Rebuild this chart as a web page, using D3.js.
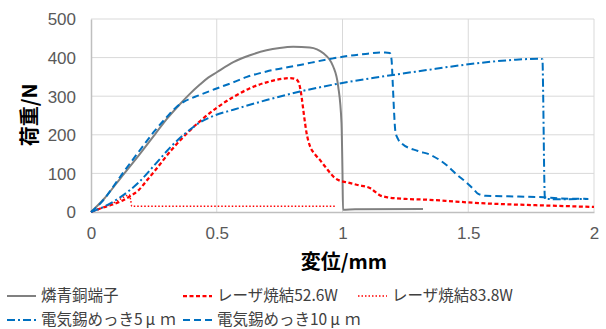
<!DOCTYPE html>
<html>
<head>
<meta charset="utf-8">
<script src="https://cdn.jsdelivr.net/npm/d3@7"></script>
<style>
  body { margin: 0; background: #fff; }
  svg { display: block; }
</style>
</head>
<body>
<script>
// values: [displacement mm, load N]
var xTicks = [0, 0.5, 1, 1.5, 2];
var yTicks = [0, 100, 200, 300, 400, 500];

var seriesNames = ["燐青銅端子", "レーザ焼結52.6W", "レーザ焼結83.8W", "電気錫めっき5μｍ", "電気錫めっき10μｍ"];

var phosphorBronze = [[0,0],[0.053,35],[0.12,90],[0.19,147],[0.253,200],[0.3,240],[0.346,274],[0.39,304],[0.433,330],[0.466,348],[0.5,362],[0.566,388],[0.632,406],[0.698,419],[0.75,425],[0.804,428],[0.87,426],[0.924,411],[0.963,377],[0.983,325],[0.996,231],[1.0,100],[1.002,6],[1.05,7],[1.32,8]];
var laser526 = [[0,0],[0.041,10],[0.08,18],[0.12,28],[0.16,43],[0.187,55],[0.22,80],[0.253,106],[0.319,160],[0.385,206],[0.433,235],[0.5,270],[0.566,298],[0.63,320],[0.698,336],[0.75,344],[0.791,347],[0.812,345],[0.824,338],[0.832,320],[0.837,300],[0.847,250],[0.857,205],[0.87,172],[0.89,150],[0.91,135],[0.94,110],[0.97,88],[0.99,81],[1.017,77],[1.06,70],[1.109,62],[1.13,52],[1.15,43],[1.18,38],[1.25,34],[1.334,32],[1.45,27],[1.547,23],[1.7,19],[1.85,16],[2.0,13]];
var laser838 = [[0,0],[0.05,12],[0.1,27],[0.14,42],[0.152,45],[0.158,30],[0.162,15],[0.977,15]];
var tin5 = [[0,0],[0.068,19],[0.12,40],[0.187,75],[0.253,122],[0.319,170],[0.385,209],[0.433,232],[0.491,250],[0.566,265],[0.698,290],[0.831,312],[0.963,330],[1.149,350],[1.328,367],[1.48,381],[1.679,394],[1.78,397],[1.795,396],[1.798,300],[1.8,200],[1.802,100],[1.805,34],[1.86,33],[1.977,34]];
var tin10 = [[0,0],[0.041,25],[0.12,95],[0.2,165],[0.253,210],[0.3,245],[0.34,272],[0.37,286],[0.42,300],[0.491,318],[0.566,336],[0.62,350],[0.698,364],[0.831,381],[0.963,398],[1.03,405],[1.1,410],[1.149,413],[1.17,413],[1.188,412],[1.195,395],[1.2,330],[1.205,260],[1.21,210],[1.22,190],[1.235,178],[1.3,158],[1.35,148],[1.39,133],[1.42,118],[1.454,97],[1.49,78],[1.52,60],[1.54,47],[1.57,42],[1.7,40],[1.8,38],[1.865,35],[1.977,34]];

var styles = [
  {color: "#808080", width: 2, dash: null},
  {color: "#ff0000", width: 2.25, dash: "4,2.5"},
  {color: "#ff0000", width: 1.5, dash: "1.5,2"},
  {color: "#0070c0", width: 2, dash: "8,3,2,3"},
  {color: "#0070c0", width: 2, dash: "7,4"}
];
var allSeries = [phosphorBronze, laser526, laser838, tin5, tin10];

var W = 606, H = 329;
var margin = {top: 19, right: 12, bottom: 117, left: 91};
var w = 594 - 91, h = 212 - 19;

var svg = d3.select("body").append("svg")
  .attr("width", W)
  .attr("height", H);

var g = svg.append("g")
  .attr("transform", "translate(" + margin.left + "," + margin.top + ")");

var x = d3.scaleLinear().domain([0, 2]).range([0, w]);
var y = d3.scaleLinear().domain([0, 500]).range([h, 0]);

// gridlines
g.selectAll(".hgrid").data(yTicks.slice(1)).enter().append("line")
  .attr("x1", 0).attr("x2", w)
  .attr("y1", d => y(d)).attr("y2", d => y(d))
  .style("stroke", "#d9d9d9").style("stroke-width", 1);
g.selectAll(".vgrid").data(xTicks.slice(1)).enter().append("line")
  .attr("y1", 0).attr("y2", h)
  .attr("x1", d => x(d)).attr("x2", d => x(d))
  .style("stroke", "#d9d9d9").style("stroke-width", 1);

// axes
var xAxis = d3.axisBottom(x).tickValues(xTicks).tickSize(0).tickPadding(15)
  .tickFormat(d3.format("~g"));
var yAxis = d3.axisLeft(y).tickValues(yTicks).tickSize(0).tickPadding(15);

var xg = g.append("g").attr("transform", "translate(0," + h + ")").call(xAxis);
var yg = g.append("g").call(yAxis);
[xg, yg].forEach(function(a) {
  a.select(".domain").style("stroke", "#bfbfbf").style("stroke-width", 1.5);
  a.selectAll("text")
    .style("font-family", "'Liberation Sans', Arial, sans-serif")
    .style("font-size", "17px")
    .style("fill", "#595959");
});
yg.selectAll("text").attr("dy", "0.35em");

// lines
var line = d3.line()
  .x(d => x(d[0]))
  .y(d => y(d[1]))
  .curve(d3.curveMonotoneX);

g.selectAll(".series").data(allSeries).enter().append("path")
  .attr("d", line)
  .style("fill", "none")
  .style("stroke", (d, i) => styles[i].color)
  .style("stroke-width", (d, i) => styles[i].width)
  .style("stroke-dasharray", (d, i) => styles[i].dash);

// axis titles
svg.append("text")
  .attr("x", 344).attr("y", 269)
  .attr("text-anchor", "middle")
  .style("font-family", "'Noto Sans CJK JP', sans-serif")
  .style("font-weight", "bold")
  .style("font-size", "20px")
  .style("fill", "#000")
  .text("変位/mm");

svg.append("text")
  .attr("transform", "translate(37,115) rotate(-90)")
  .attr("text-anchor", "middle")
  .style("font-family", "'Noto Sans CJK JP', sans-serif")
  .style("font-weight", "bold")
  .style("font-size", "20px")
  .style("fill", "#000")
  .text("荷重/N");

// legend
var legendPos = [[7, 296], [183, 296], [358, 296], [7, 320], [183, 320]];
var leg = svg.selectAll(".legend").data(seriesNames).enter().append("g")
  .attr("transform", (d, i) => "translate(" + legendPos[i][0] + "," + legendPos[i][1] + ")");
leg.append("line")
  .attr("x1", 0).attr("x2", 29).attr("y1", 0).attr("y2", 0)
  .style("stroke", (d, i) => styles[i].color)
  .style("stroke-width", (d, i) => styles[i].width)
  .style("stroke-dasharray", (d, i) => styles[i].dash);
var legText = leg.append("text")
  .attr("x", 34).attr("y", 0).attr("dy", "0.35em")
  .style("font-family", "'Noto Sans CJK JP', sans-serif")
  .style("font-size", "15.5px")
  .style("fill", "#404040");
// the μ and ｍ sit in full-width cells in the original, so space them out
legText.each(function(d) {
  var t = d3.select(this);
  var parts = d.split("μ");
  t.append("tspan").text(parts[0]);
  if (parts.length > 1) {
    t.append("tspan").attr("dx", 3).text("μ");
    t.append("tspan").attr("dx", 5).text(parts[1]);
  }
});
</script>
</body>
</html>
